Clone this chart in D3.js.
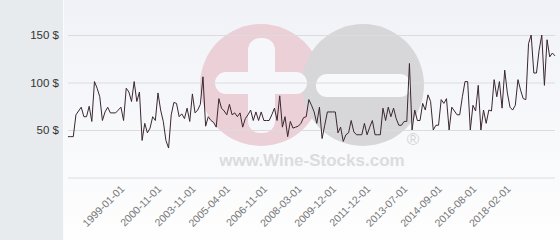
<!DOCTYPE html>
<html>
<head>
  <script src="https://d3js.org/d3.v7.min.js"></script>
  <style>
    body { margin: 0; }
    svg { display: block; font-family: "DejaVu Sans", sans-serif; }
  </style>
</head>
<body>
  <svg id="chart"></svg>
  <script>
    // prices, one per category (point axis)
    const prices = [
      43,43,43,66,70,74,64,64,75,59,101,94,85,60,69,74,68,68,68,71,74,60,94,90,80,101,80,90,39,57,
      47,52,64,60,89,71,59,39,31,66,79,78,64,67,62,73,59,88,68,71,77,106,54,64,60,58,53,83,73,70,66,
      77,66,68,64,68,53,62,66,71,60,69,60,69,60,60,60,66,73,60,86,53,64,43,59,52,53,54,57,63,64,82,76,
      69,57,74,41,55,69,69,69,69,47,53,38,45,47,60,48,45,45,45,57,45,53,60,45,45,45,73,60,74,64,73,
      62,55,55,59,59,120,50,71,60,60,78,71,87,80,50,55,55,82,78,83,50,74,70,66,66,85,101,101,50,76,70,97,
      50,71,57,71,70,103,85,101,73,113,89,74,71,76,103,92,83,82,141,150,110,110,134,150,97,145,127,131,128
    ];
    const tickLabels = ["1999-01-01","2000-11-01","2003-11-01","2005-04-01","2006-11-01","2008-03-01",
                        "2009-12-01","2011-12-01","2013-07-01","2014-09-01","2016-08-01","2018-02-01"];
    const tickIndex = [20,34,47,60,74,87,100,113,127,140,153,166];
    const yTicks = [0, 50, 100, 150];

    const W = 560, H = 240;
    const svg = d3.select("#chart").attr("width", W).attr("height", H);

    // backgrounds
    const defs = svg.append("defs");
    const grad = defs.append("linearGradient").attr("id", "bg").attr("x1", 0).attr("y1", 0).attr("x2", 0).attr("y2", 1);
    grad.append("stop").attr("offset", "0%").attr("stop-color", "#f0f2f7");
    grad.append("stop").attr("offset", "100%").attr("stop-color", "#fefefe");

    svg.append("rect").attr("width", 63).attr("height", H).attr("fill", "#e8ebee");
    svg.append("rect").attr("x", 63).attr("width", W - 63).attr("height", H).attr("fill", "url(#bg)");
    svg.append("line").attr("x1", 63.5).attr("x2", 63.5).attr("y1", 0).attr("y2", H).attr("stroke", "#fafbfc");

    // watermark
    const wm = svg.append("g");
    wm.append("circle").attr("cx", 261).attr("cy", 85).attr("r", 61).attr("fill", "#ebd0d7");
    wm.append("circle").attr("cx", 363).attr("cy", 85).attr("r", 61).attr("fill", "#d7d7d9");
    wm.append("rect").attr("x", 248).attr("y", 38).attr("width", 27).attr("height", 95).attr("rx", 12).attr("fill", "#f6f7fa");
    wm.append("rect").attr("x", 215).attr("y", 72).attr("width", 92).attr("height", 22).attr("rx", 11).attr("fill", "#f6f7fa");
    wm.append("rect").attr("x", 316).attr("y", 74).attr("width", 95).attr("height", 23).attr("rx", 11).attr("fill", "#f8f9fb");
    wm.append("text").attr("x", 312).attr("y", 166).attr("text-anchor", "middle")
      .style("font-family", "Liberation Sans, Arial, sans-serif").style("font-weight", "bold")
      .style("font-size", "17px").attr("fill", "#dcdcdf").text("www.Wine-Stocks.com");
    wm.append("text").attr("x", 413).attr("y", 145).attr("text-anchor", "middle")
      .style("font-family", "Liberation Sans, Arial, sans-serif").style("font-size", "17px")
      .attr("fill", "#d4d4d6").text("®");

    // scales
    const x = d3.scalePoint().domain(d3.range(prices.length)).range([68, 555]);
    const y = d3.scaleLinear().domain([0, 150]).range([177.5, 35]);

    // grid + y labels
    const yAxis = svg.append("g")
      .attr("transform", "translate(68,0)")
      .call(d3.axisLeft(y).tickValues(yTicks).tickSize(-487).tickPadding(9).tickFormat(d => d ? d + " $" : ""));
    yAxis.select(".domain").remove();
    yAxis.selectAll(".tick line").attr("stroke", "#dcdcdf");
    yAxis.selectAll(".tick text").attr("fill", "#333").style("font-size", "11.5px");

    // x labels
    const xAxis = svg.append("g")
      .attr("transform", "translate(0,178)")
      .call(d3.axisBottom(x).tickValues(tickIndex).tickSize(0).tickFormat((d, i) => tickLabels[i]));
    xAxis.select(".domain").remove();
    xAxis.selectAll(".tick text")
      .attr("fill", "#777").style("font-size", "10.5px")
      .attr("text-anchor", "end")
      .attr("transform", "translate(1,9) rotate(-45)")
      .attr("dy", "0.35em").attr("y", 0).attr("x", 0);

    // line
    const line = d3.line().x((d, i) => x(i)).y(d => y(d));
    svg.append("path").datum(prices)
      .attr("d", line)
      .attr("fill", "none")
      .attr("stroke", "#3b2730")
      .attr("stroke-width", 1)
      .attr("stroke-linejoin", "round");
  </script>
</body>
</html>
